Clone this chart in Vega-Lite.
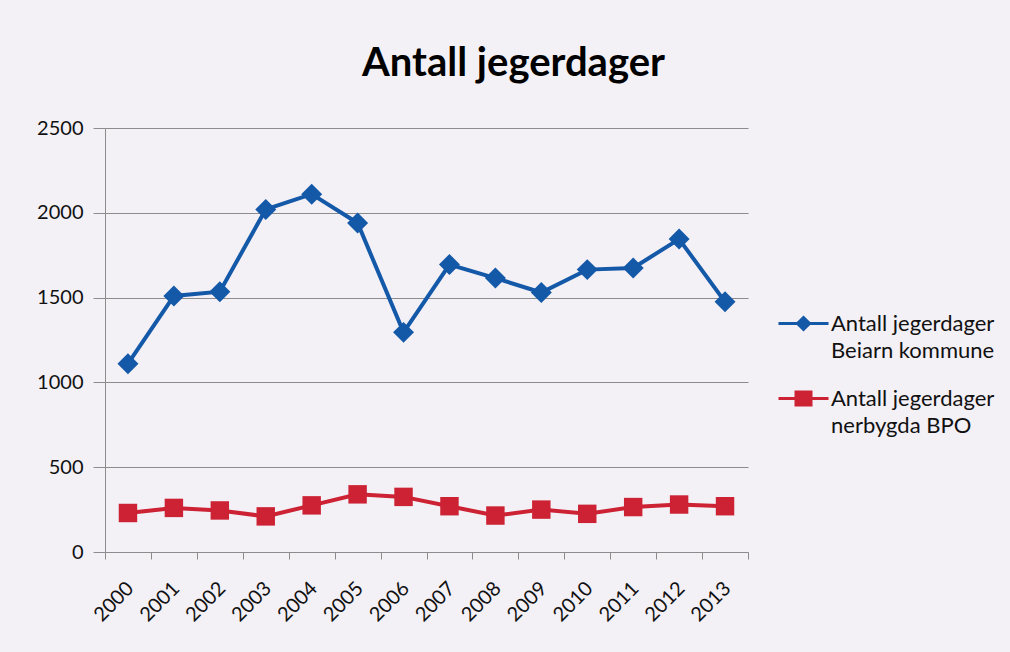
{
  "$schema": "https://vega.github.io/schema/vega-lite/v6.json",
  "autosize": {"type": "none"},
  "padding": {"left": 105, "top": 128, "right": 262, "bottom": 100},
  "width": 643,
  "height": 424,
  "background": "#f3f0f6",
  "title": {
    "text": "Antall jegerdager",
    "font": "Lato",
    "fontSize": 40,
    "fontWeight": "bold",
    "color": "#000000",
    "anchor": "middle",
    "baseline": "alphabetic",
    "offset": 2,
    "dx": 87
  },
  "config": {
    "view": {"stroke": null, "fill": "#f3f0f6"},
    "font": "Lato",
    "axis": {"labelFont": "Lato", "labelColor": "#111111", "labelFontSize": 20, "gridColor": "#8c8c8c", "gridWidth": 1, "domainColor": "#8c8c8c", "tickColor": "#8c8c8c", "title": null}
  },
  "data": {
    "values": [
      {"year": "2000", "series": "Antall jegerdager Beiarn kommune", "value": 1110},
      {"year": "2001", "series": "Antall jegerdager Beiarn kommune", "value": 1510},
      {"year": "2002", "series": "Antall jegerdager Beiarn kommune", "value": 1535},
      {"year": "2003", "series": "Antall jegerdager Beiarn kommune", "value": 2020},
      {"year": "2004", "series": "Antall jegerdager Beiarn kommune", "value": 2110},
      {"year": "2005", "series": "Antall jegerdager Beiarn kommune", "value": 1940},
      {"year": "2006", "series": "Antall jegerdager Beiarn kommune", "value": 1295},
      {"year": "2007", "series": "Antall jegerdager Beiarn kommune", "value": 1695},
      {"year": "2008", "series": "Antall jegerdager Beiarn kommune", "value": 1615},
      {"year": "2009", "series": "Antall jegerdager Beiarn kommune", "value": 1530},
      {"year": "2010", "series": "Antall jegerdager Beiarn kommune", "value": 1665},
      {"year": "2011", "series": "Antall jegerdager Beiarn kommune", "value": 1675},
      {"year": "2012", "series": "Antall jegerdager Beiarn kommune", "value": 1845},
      {"year": "2013", "series": "Antall jegerdager Beiarn kommune", "value": 1475},
      {"year": "2000", "series": "Antall jegerdager nerbygda BPO", "value": 230},
      {"year": "2001", "series": "Antall jegerdager nerbygda BPO", "value": 260},
      {"year": "2002", "series": "Antall jegerdager nerbygda BPO", "value": 245},
      {"year": "2003", "series": "Antall jegerdager nerbygda BPO", "value": 210},
      {"year": "2004", "series": "Antall jegerdager nerbygda BPO", "value": 275},
      {"year": "2005", "series": "Antall jegerdager nerbygda BPO", "value": 340},
      {"year": "2006", "series": "Antall jegerdager nerbygda BPO", "value": 325},
      {"year": "2007", "series": "Antall jegerdager nerbygda BPO", "value": 270},
      {"year": "2008", "series": "Antall jegerdager nerbygda BPO", "value": 215},
      {"year": "2009", "series": "Antall jegerdager nerbygda BPO", "value": 250},
      {"year": "2010", "series": "Antall jegerdager nerbygda BPO", "value": 225},
      {"year": "2011", "series": "Antall jegerdager nerbygda BPO", "value": 265},
      {"year": "2012", "series": "Antall jegerdager nerbygda BPO", "value": 280},
      {"year": "2013", "series": "Antall jegerdager nerbygda BPO", "value": 270}
    ]
  },
  "encoding": {
    "x": {
      "field": "year",
      "type": "ordinal",
      "scale": {"type": "band", "paddingInner": 0, "paddingOuter": 0},
      "axis": {"labelAngle": -45, "tickBand": "extent", "tickSize": 7, "labelPadding": 19, "labelOffset": -5, "domain": true, "grid": false}
    },
    "y": {
      "field": "value",
      "type": "quantitative",
      "scale": {"domain": [0, 2500], "nice": false},
      "axis": {"values": [0, 500, 1000, 1500, 2000, 2500], "format": "d", "tickSize": 12, "labelPadding": 10, "grid": true, "domain": true}
    }
  },
  "layer": [
    {
      "mark": {"type": "line", "strokeWidth": 4},
      "encoding": {
        "color": {
          "field": "series",
          "type": "nominal",
          "scale": {"domain": ["Antall jegerdager Beiarn kommune", "Antall jegerdager nerbygda BPO"], "range": ["#1458a8", "#cc2233"]},
          "legend": {
            "title": null,
            "orient": "none",
            "legendX": 672,
            "legendY": 169,
            "padding": 0,
            "symbolSize": 2500,
            "symbolStrokeWidth": 3,
            "symbolOpacity": 1,
            "labelFont": "Lato",
            "labelFontSize": 22,
            "labelColor": "#111111",
            "labelLimit": 0,
            "labelOffset": 1,
            "labelBaseline": "middle",
            "rowPadding": 10,
            "labelExpr": "[slice(datum.label, 0, 17), slice(datum.label, 18)]",
            "encode": {
              "symbols": {
                "update": {
                  "shape": {"signal": "datum.value == 'Antall jegerdager Beiarn kommune' ? 'M-1,0H1M0,-0.24L0.24,0L0,0.24L-0.24,0Z' : 'M-1,0H1M-0.3,-0.26H0.3V0.26H-0.3Z'"},
                  "fill": {"scale": "color", "field": "value"},
                  "stroke": {"scale": "color", "field": "value"},
                  "strokeWidth": {"value": 3}
                }
              },
              "labels": {
                "update": {
                  "lineHeight": {"value": 27}
                }
              }
            }
          }
        }
      }
    },
    {
      "transform": [{"filter": "datum.series == 'Antall jegerdager Beiarn kommune'"}],
      "mark": {"type": "point", "filled": true, "opacity": 1, "shape": "diamond", "size": 440, "color": "#1458a8"}
    },
    {
      "transform": [{"filter": "datum.series == 'Antall jegerdager nerbygda BPO'"}],
      "mark": {"type": "point", "filled": true, "opacity": 1, "shape": "square", "size": 340, "color": "#cc2233"}
    }
  ]
}
